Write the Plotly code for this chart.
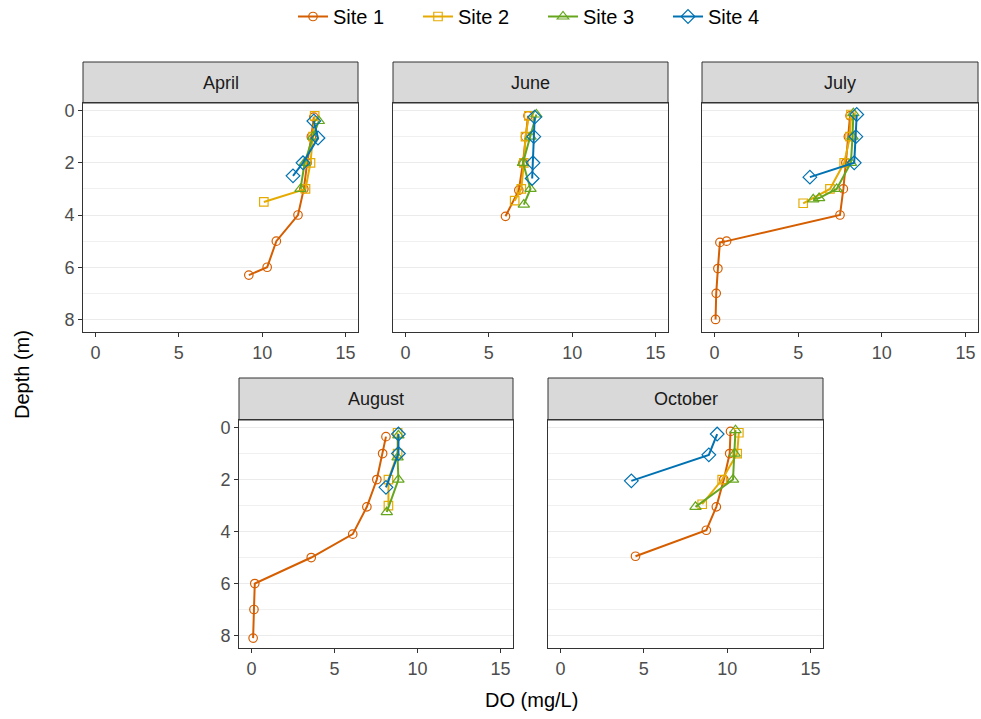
import plotly.graph_objects as go

# ---- Dissolved oxygen profiles: depth (m) and DO (mg/L) per month and site ----
april_s1_depth = [0.25, 1.0, 2.0, 3.0, 4.0, 5.0, 6.0, 6.3]
april_s1_do = [13.1, 12.95, 12.7, 12.5, 12.15, 10.85, 10.3, 9.2]
april_s2_depth = [0.2, 1.0, 2.0, 3.0, 3.5]
april_s2_do = [13.15, 13.05, 12.9, 12.6, 10.1]
april_s3_depth = [0.4, 1.0, 2.0, 3.0]
april_s3_do = [13.4, 13.05, 12.55, 12.3]
april_s4_depth = [0.4, 1.05, 2.0, 2.5]
april_s4_do = [13.1, 13.35, 12.45, 11.85]

june_s1_depth = [0.2, 1.0, 2.0, 3.05, 4.05]
june_s1_do = [7.35, 7.2, 7.05, 6.8, 6.0]
june_s2_depth = [0.2, 1.0, 2.0, 3.0, 3.45]
june_s2_do = [7.4, 7.2, 7.1, 6.95, 6.55]
june_s3_depth = [0.15, 1.0, 2.0, 3.0, 3.6]
june_s3_do = [7.85, 7.5, 7.05, 7.5, 7.1]
june_s4_depth = [0.25, 1.0, 2.0, 2.6]
june_s4_do = [7.75, 7.7, 7.65, 7.6]

july_s1_depth = [0.2, 1.0, 2.0, 3.0, 4.0, 5.0, 5.05, 6.05, 7.0, 8.0]
july_s1_do = [8.1, 8.0, 7.85, 7.7, 7.5, 0.72, 0.32, 0.2, 0.1, 0.06]
july_s2_depth = [0.15, 1.0, 2.0, 3.0, 3.55]
july_s2_do = [8.15, 8.1, 7.75, 6.9, 5.3]
july_s3_depth = [0.1, 1.0, 2.0, 3.0, 3.35, 3.4]
july_s3_do = [8.3, 8.25, 8.15, 7.3, 6.25, 5.9]
july_s4_depth = [0.15, 1.0, 2.0, 2.55]
july_s4_do = [8.5, 8.45, 8.35, 5.7]

august_s1_depth = [0.35, 1.0, 2.0, 3.05, 4.1, 5.0, 6.0, 7.0, 8.1]
august_s1_do = [8.1, 7.9, 7.55, 6.95, 6.1, 3.6, 0.2, 0.15, 0.1]
august_s2_depth = [0.2, 1.0, 2.0, 3.0]
august_s2_do = [8.8, 8.8, 8.25, 8.25]
august_s3_depth = [0.3, 1.15, 2.0, 3.25]
august_s3_do = [8.85, 8.8, 8.85, 8.15]
august_s4_depth = [0.25, 1.0, 2.3]
august_s4_do = [8.85, 8.85, 8.1]

october_s1_depth = [0.15, 1.0, 2.0, 3.05, 3.95, 4.95]
october_s1_do = [10.2, 10.15, 9.8, 9.35, 8.75, 4.5]
october_s2_depth = [0.2, 1.0, 2.0, 2.95]
october_s2_do = [10.7, 10.6, 9.7, 8.5]
october_s3_depth = [0.1, 1.0, 2.0, 3.05]
october_s3_do = [10.5, 10.45, 10.35, 8.1]
october_s4_depth = [0.25, 1.05, 2.05]
october_s4_do = [9.4, 8.9, 4.25]

months = ["April", "June", "July", "August", "October"]
sites = ["Site 1", "Site 2", "Site 3", "Site 4"]
x_ticks = [0, 5, 10, 15]
y_ticks = [0, 2, 4, 6, 8]

profiles = {
    "April": [(april_s1_do, april_s1_depth), (april_s2_do, april_s2_depth),
              (april_s3_do, april_s3_depth), (april_s4_do, april_s4_depth)],
    "June": [(june_s1_do, june_s1_depth), (june_s2_do, june_s2_depth),
             (june_s3_do, june_s3_depth), (june_s4_do, june_s4_depth)],
    "July": [(july_s1_do, july_s1_depth), (july_s2_do, july_s2_depth),
             (july_s3_do, july_s3_depth), (july_s4_do, july_s4_depth)],
    "August": [(august_s1_do, august_s1_depth), (august_s2_do, august_s2_depth),
               (august_s3_do, august_s3_depth), (august_s4_do, august_s4_depth)],
    "October": [(october_s1_do, october_s1_depth), (october_s2_do, october_s2_depth),
                (october_s3_do, october_s3_depth), (october_s4_do, october_s4_depth)],
}

colors = ["#D55E00", "#E6AB02", "#66A61E", "#0072B2"]
symbols = ["circle-open", "square-open", "triangle-up-open", "diamond-open"]
sizes = [8.5, 8.5, 10, 10.5]

W, H = 981, 719
FONT = "Liberation Sans, Arial, sans-serif"

# panel boxes in pixels: (left, right, strip_top, plot_top, plot_bottom)
panels = {
    "April": (83, 358, 62, 103, 332),
    "June": (393, 668, 62, 103, 332),
    "July": (702, 978, 62, 103, 332),
    "August": (239, 513, 378, 420, 648),
    "October": (548, 823, 378, 420, 648),
}
left_axis = {"April", "August"}

fig = go.Figure()
shapes, annotations = [], []
layout_axes = {}

for i, month in enumerate(months):
    n = i + 1
    xa = "xaxis" if n == 1 else f"xaxis{n}"
    ya = "yaxis" if n == 1 else f"yaxis{n}"
    xr = "x" if n == 1 else f"x{n}"
    yr = "y" if n == 1 else f"y{n}"
    L, R, ST, PT, PB = panels[month]

    for s, (do_vals, depth_vals) in enumerate(profiles[month]):
        fig.add_trace(go.Scatter(
            x=do_vals, y=depth_vals, mode="lines+markers",
            name=sites[s], legendgroup=sites[s], showlegend=(i == 0),
            line=dict(color=colors[s], width=2),
            marker=dict(symbol=symbols[s], size=sizes[s], color=colors[s],
                        line=dict(width=1.2, color=colors[s])),
            xaxis=xr, yaxis=yr,
        ))

    layout_axes[xa] = dict(
        domain=[L / W, R / W], anchor=yr, range=[-0.75, 15.75],
        tickvals=x_ticks, ticks="outside", ticklen=4, tickcolor="#333333",
        tickfont=dict(size=18, color="#4D4D4D", family=FONT),
        showgrid=False, zeroline=False,
        showline=True, linecolor="#333333", linewidth=1, mirror=True,
    )
    layout_axes[ya] = dict(
        domain=[1 - PB / H, 1 - PT / H], anchor=xr, range=[8.48, -0.29],
        tickvals=y_ticks, ticks="outside" if month in left_axis else "",
        ticklen=4, tickcolor="#333333", showticklabels=month in left_axis,
        tickfont=dict(size=18, color="#4D4D4D", family=FONT),
        showgrid=True, gridcolor="#EBEBEB", gridwidth=1.1,
        minor=dict(tickvals=[1, 3, 5, 7], showgrid=True,
                   gridcolor="#F0F0F0", gridwidth=0.7, ticks=""),
        zeroline=False,
        showline=True, linecolor="#333333", linewidth=1, mirror=True,
    )

    # facet strip
    shapes.append(dict(type="rect", xref="paper", yref="paper",
                       x0=L / W, x1=R / W, y0=1 - PT / H, y1=1 - ST / H,
                       fillcolor="#D9D9D9", line=dict(color="#333333", width=1),
                       layer="below"))
    annotations.append(dict(text=month, xref="paper", yref="paper",
                            x=(L + R) / 2 / W, y=1 - (ST + PT) / 2 / H,
                            xanchor="center", yanchor="middle", showarrow=False,
                            font=dict(size=18, color="#1A1A1A", family=FONT)))

annotations.append(dict(text="Depth (m)", xref="paper", yref="paper",
                        x=22 / W, y=1 - 375 / H, textangle=-90,
                        xanchor="center", yanchor="middle", showarrow=False,
                        font=dict(size=20, color="#000000", family=FONT)))
annotations.append(dict(text="DO (mg/L)", xref="paper", yref="paper",
                        x=531 / W, y=1 - 700 / H,
                        xanchor="center", yanchor="middle", showarrow=False,
                        font=dict(size=20, color="#000000", family=FONT)))

fig.update_layout(
    width=W, height=H, autosize=False,
    margin=dict(l=0, r=0, t=0, b=0, autoexpand=False),
    paper_bgcolor="white", plot_bgcolor="white",
    font=dict(family=FONT),
    shapes=shapes, annotations=annotations,
    legend=dict(orientation="h", x=543 / W, xanchor="center",
                y=1 + 3 / H, yanchor="top", entrywidth=80,
                font=dict(size=20, color="#000000", family=FONT),
                bgcolor="rgba(0,0,0,0)"),
    **layout_axes,
)

fig.write_html("out.html")
